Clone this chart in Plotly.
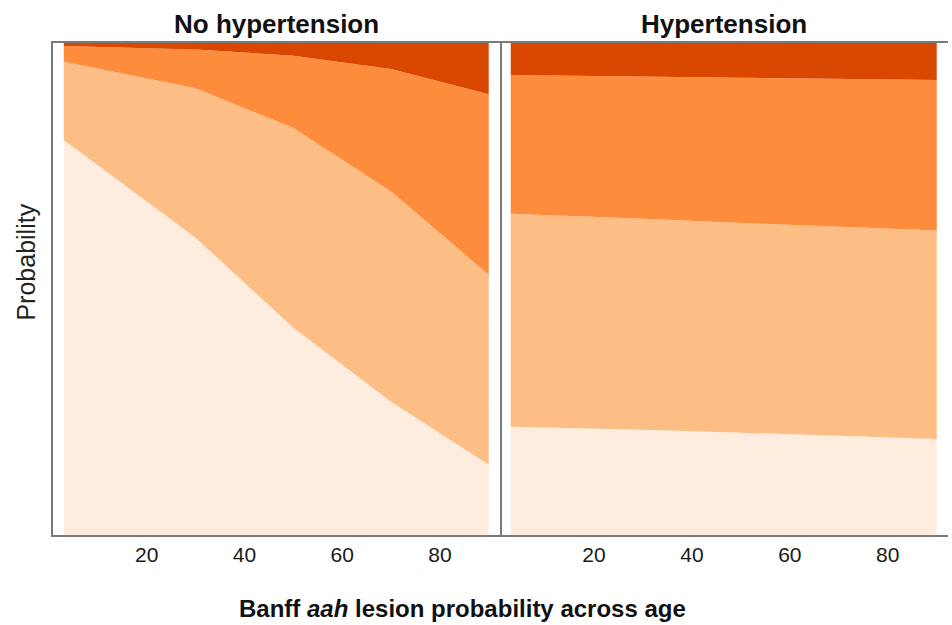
import plotly.graph_objects as go

# Age grid (years) at which the ordinal model probabilities were evaluated
age = [3, 30, 50, 70, 90]

# Banff aah grade probabilities, patients without hypertension
no_htn_aah0 = [0.803, 0.604, 0.421, 0.271, 0.143]
no_htn_aah1 = [0.159, 0.304, 0.406, 0.427, 0.386]
no_htn_aah2 = [0.032, 0.079, 0.147, 0.249, 0.367]
no_htn_aah3 = [0.006, 0.013, 0.026, 0.053, 0.104]

# Banff aah grade probabilities, patients with hypertension
htn_aah0 = [0.220, 0.214, 0.208, 0.202, 0.195]
htn_aah1 = [0.433, 0.429, 0.426, 0.424, 0.424]
htn_aah2 = [0.282, 0.289, 0.296, 0.302, 0.306]
htn_aah3 = [0.065, 0.068, 0.070, 0.072, 0.075]

grade_names = ["aah 0", "aah 1", "aah 2", "aah 3"]
grade_colors = ["#feedde", "#fdbe85", "#fd8d3c", "#d94701"]

panel_titles = ["No hypertension", "Hypertension"]
tick_vals = [20, 40, 60, 80]

FONT = "Liberation Sans, Arial, Helvetica, sans-serif"

fig = go.Figure()

panels = [
    ("x", "y", "left", [no_htn_aah0, no_htn_aah1, no_htn_aah2, no_htn_aah3]),
    ("x2", "y", "right", [htn_aah0, htn_aah1, htn_aah2, htn_aah3]),
]
for xa, ya, grp, series in panels:
    for name, color, vals in zip(grade_names, grade_colors, series):
        fig.add_trace(go.Scatter(
            x=age, y=vals, xaxis=xa, yaxis=ya,
            name=name, stackgroup=grp, mode="lines",
            line=dict(width=0, color=color), fillcolor=color,
            showlegend=False, hoverinfo="x+y+name",
        ))

axis_line = dict(showline=True, mirror=True, linecolor="#7a7a7a", linewidth=1.6,
                 showgrid=False, zeroline=False, ticks="")
x_common = dict(range=[0.8, 92.3], tickvals=tick_vals,
                tickfont=dict(family=FONT, size=21, color="#1a1a1a"), **axis_line)

fig.update_layout(
    width=952, height=625,
    margin=dict(l=53, r=4, t=43, b=90),
    paper_bgcolor="white", plot_bgcolor="white",
    font=dict(family=FONT),
    xaxis=dict(domain=[0, 0.4994], anchor="y", **x_common),
    xaxis2=dict(domain=[0.4994, 1], anchor="y", **x_common),
    yaxis=dict(range=[0, 1], showticklabels=False, **axis_line),
)

# panel headings
for title, xc in zip(panel_titles, [0.2497, 0.7497]):
    fig.add_annotation(text=f"<b>{title}</b>", x=xc, y=1.0, xref="paper", yref="paper",
                       xanchor="center", yanchor="bottom", yshift=2, showarrow=False,
                       font=dict(family=FONT, size=26, color="#111111"))

# axis titles
fig.add_annotation(text="<b>Banff <i>aah</i> lesion probability across age</b>",
                   x=0.458, y=-0.149, xref="paper", yref="paper",
                   xanchor="center", yanchor="middle", showarrow=False,
                   font=dict(family=FONT, size=24, color="#111111"))
fig.add_annotation(text="Probability", x=-0.030, y=0.554, xref="paper", yref="paper",
                   textangle=-90, xanchor="center", yanchor="middle", showarrow=False,
                   font=dict(family=FONT, size=25, color="#222222"))

fig.write_html("out.html")
